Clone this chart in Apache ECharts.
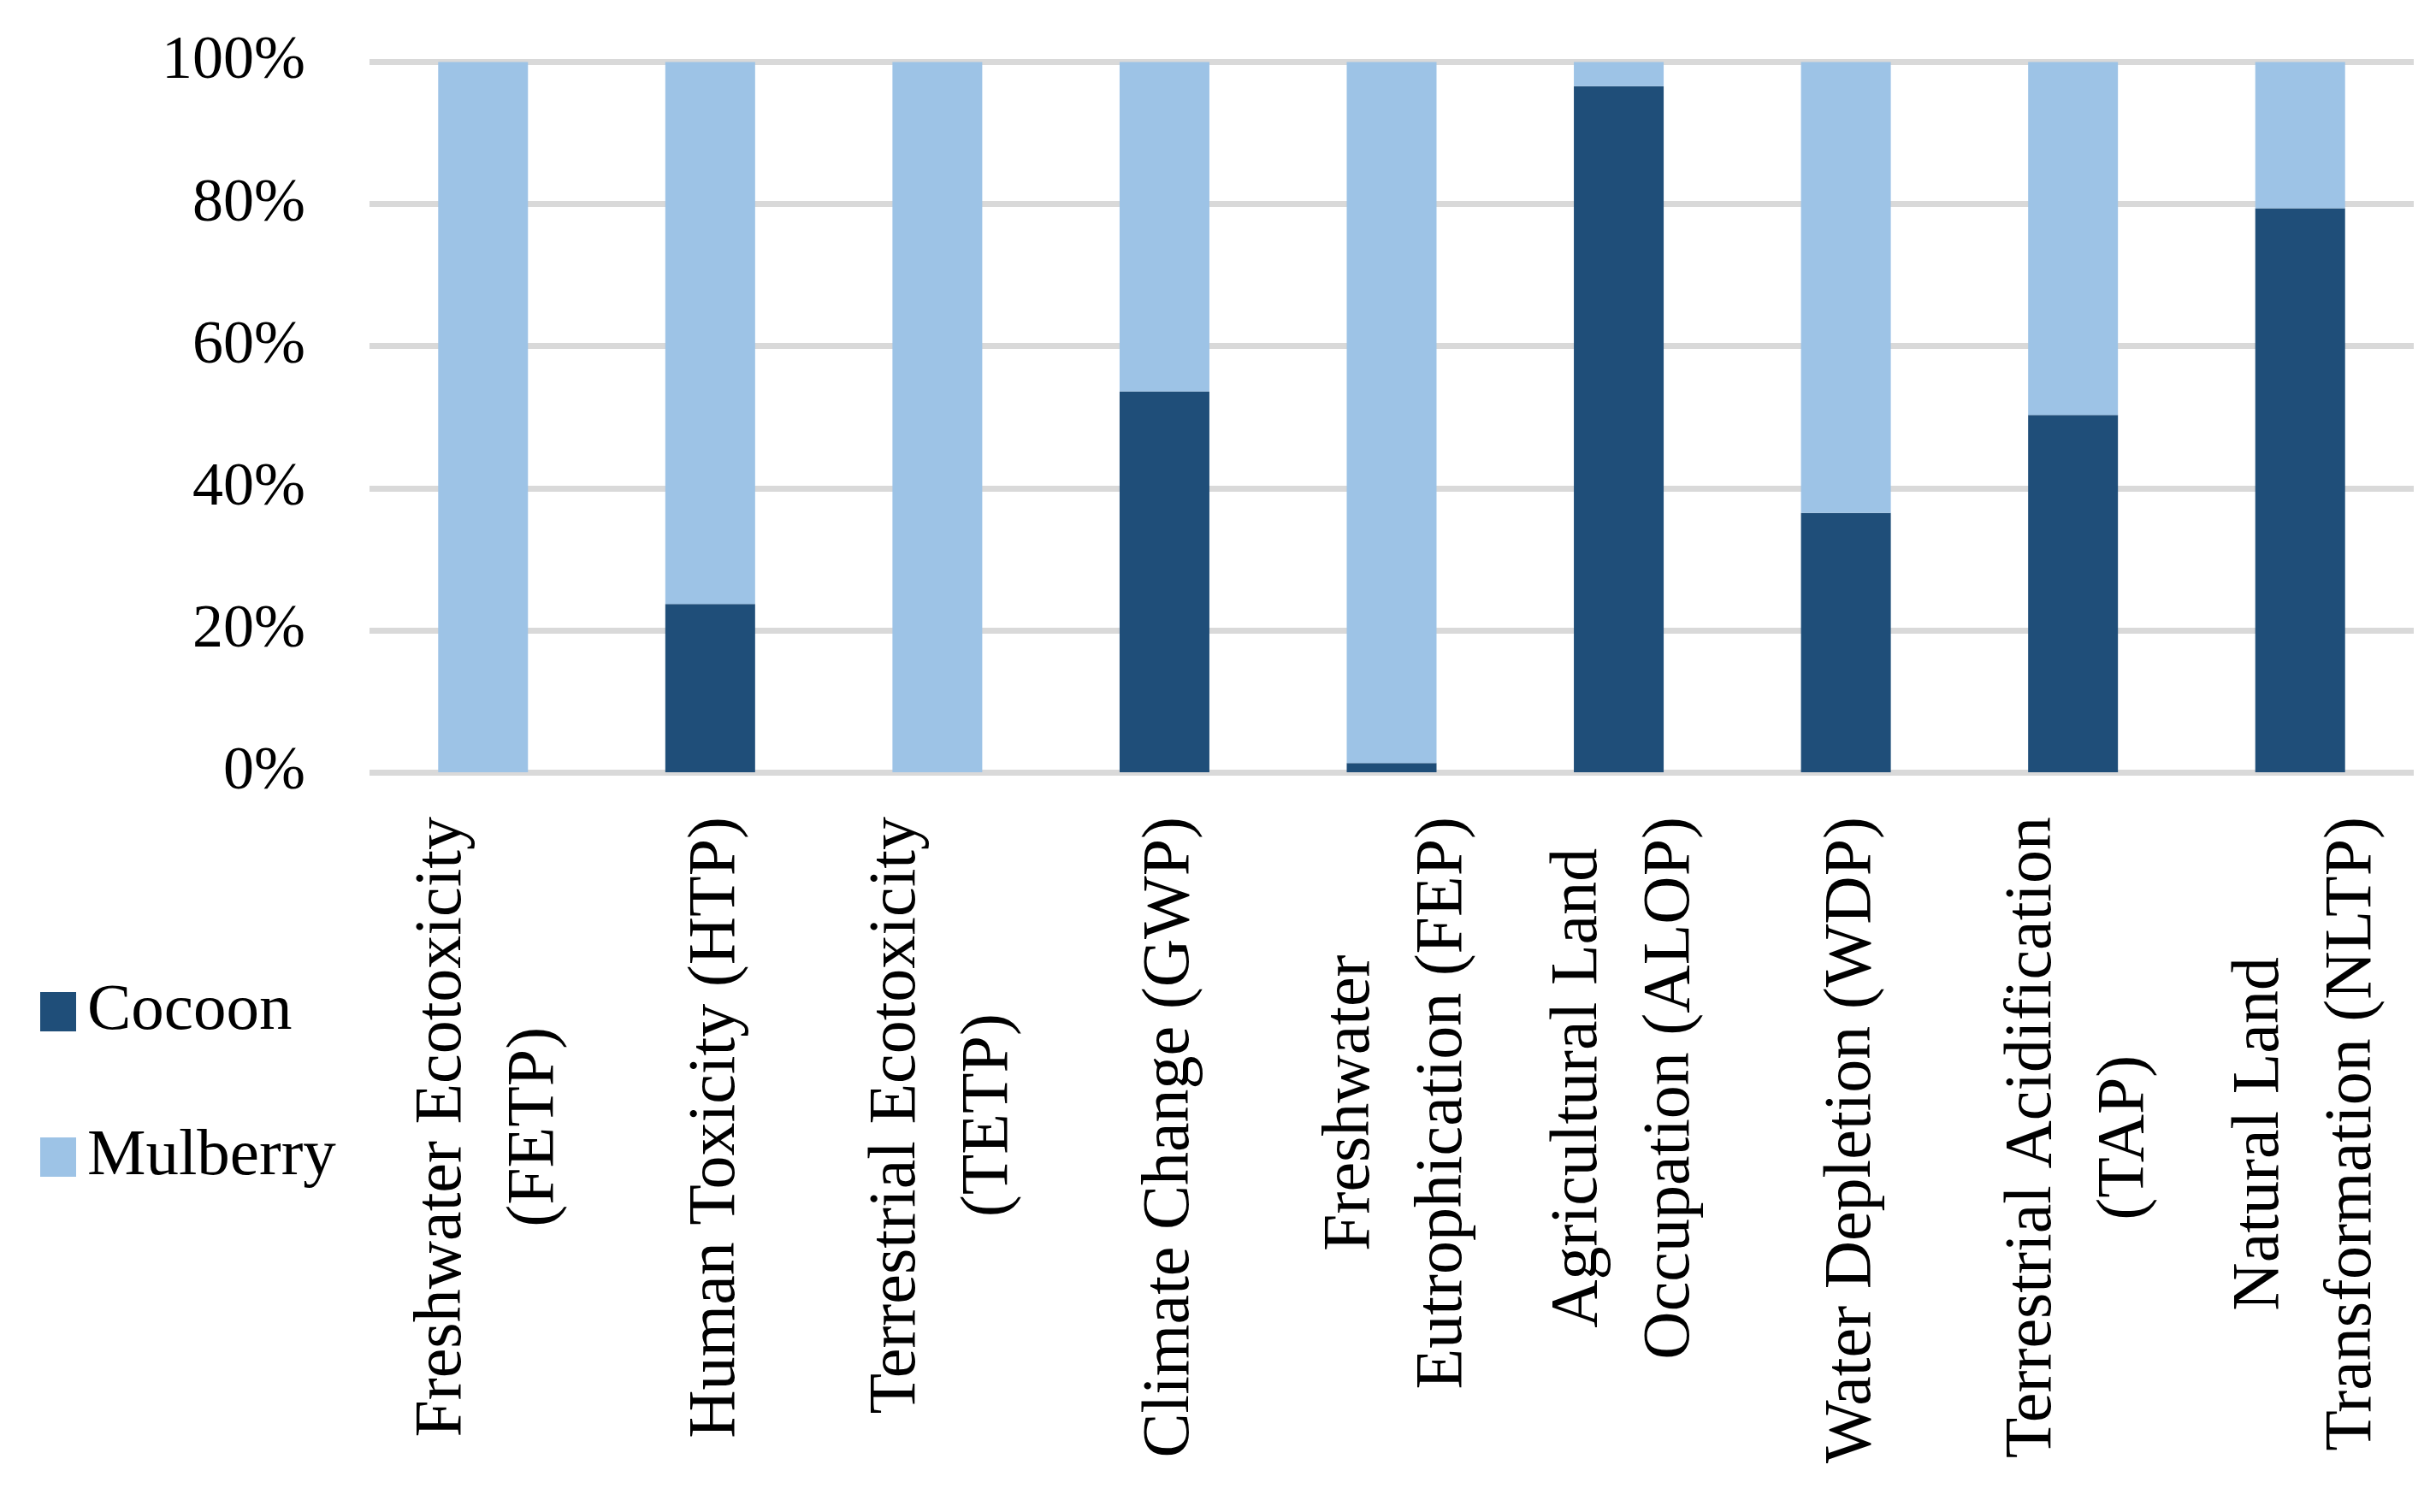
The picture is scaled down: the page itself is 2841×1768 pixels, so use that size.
<!DOCTYPE html>
<html>
<head>
<meta charset="utf-8">
<script src="https://cdn.jsdelivr.net/npm/echarts@6/dist/echarts.min.js"></script>
<style>
html,body{margin:0;padding:0;background:#fff;}
#chart{width:2841px;height:1768px;}
</style>
</head>
<body>
<div id="chart"></div>
<script>
var categories = [
  "Freshwater Ecotoxicity\n(FETP)",
  "Human Toxicity (HTP)",
  "Terrestrial Ecotoxicity\n(TETP)",
  "Climate Change (GWP)",
  "Freshwater\nEutrophication (FEP)",
  "Agricultural Land\nOccupation (ALOP)",
  "Water Depletion (WDP)",
  "Terrestrial Acidification\n(TAP)",
  "Natural Land\nTransformation (NLTP)"
];
var cocoon   = [0, 23.7, 0, 53.6, 1.3, 96.6, 36.5, 50.3, 79.4];
var mulberry = [100, 76.3, 100, 46.4, 98.7, 3.4, 63.5, 49.7, 20.6];
var yTicks = [0, 20, 40, 60, 80, 100];

var FONT = '"Liberation Serif", "Times New Roman", serif';
var chart = echarts.init(document.getElementById('chart'));
chart.setOption({
  backgroundColor: '#ffffff',
  animation: false,
  textStyle: { fontFamily: FONT, color: '#000' },
  grid: { left: 432, right: 19, top: 72.5, bottom: 865, containLabel: false },
  legend: {
    orient: 'vertical',
    left: 42,
    top: 1138,
    icon: 'rect',
    itemWidth: 42,
    itemHeight: 46,
    itemGap: 90,
    textStyle: { fontFamily: FONT, fontSize: 77, color: '#000', lineHeight: 80, padding: [0, 0, 0, 8] },
    data: ['Cocoon', 'Mulberry']
  },
  xAxis: {
    type: 'category',
    data: categories,
    axisLine: { show: false },
    axisTick: { show: false },
    axisLabel: {
      interval: 0,
      rotate: 90,
      margin: 52,
      color: '#000',
      fontFamily: FONT,
      fontSize: 78,
      lineHeight: 108,
      padding: [0, 0, 0, 0],
      formatter: function (v) {
        return v.split('\n').map(function (s) { return '{c|' + s + '}'; }).join('\n');
      },
      rich: {
        c: { align: 'center', fontFamily: FONT, fontSize: 78, lineHeight: 108, color: '#000', padding: [14, 0, 0, 0] }
      }
    }
  },
  yAxis: {
    type: 'value',
    min: yTicks[0],
    max: yTicks[yTicks.length - 1],
    interval: yTicks[1] - yTicks[0],
    axisLine: { show: false },
    axisTick: { show: false },
    axisLabel: {
      formatter: '{value}%',
      margin: 75,
      color: '#000',
      fontFamily: FONT,
      fontSize: 72
    },
    splitLine: { lineStyle: { color: '#D9D9D9', width: 7 } }
  },
  series: [
    {
      name: 'Cocoon',
      type: 'bar',
      stack: 'total',
      barWidth: 105,
      itemStyle: { color: '#1F4E79' },
      data: cocoon
    },
    {
      name: 'Mulberry',
      type: 'bar',
      stack: 'total',
      barWidth: 105,
      itemStyle: { color: '#9DC3E6' },
      data: mulberry
    }
  ]
});
</script>
</body>
</html>
